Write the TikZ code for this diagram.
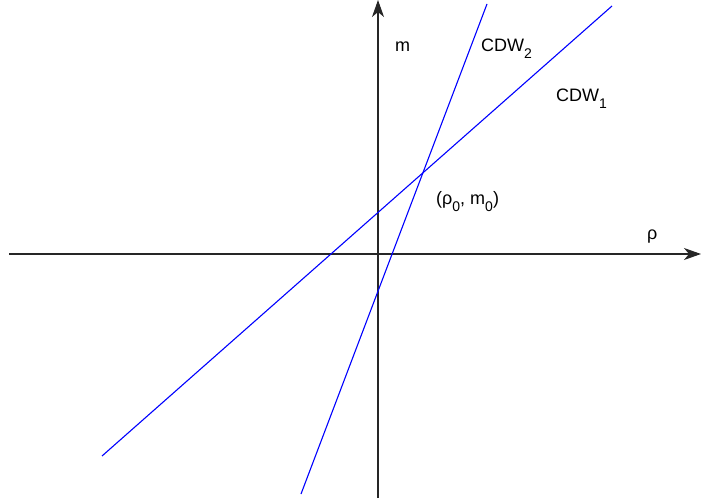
\documentclass[tikz,border=0pt]{standalone}
\usepackage{fontspec}
\setmainfont{Liberation Sans}
\usetikzlibrary{arrows.meta}
\definecolor{cdwblue}{HTML}{0000FF}
\newcommand{\sub}[1]{\raisebox{-0.65ex}{\fontsize{14}{14}\selectfont #1}}

\begin{document}
\begin{tikzpicture}[
    x=1pt, y=-1pt,
    font=\fontsize{18}{21}\selectfont,
    >={Stealth[length=17pt,width=12pt,inset=5pt]},
    axis/.style={draw=black!85, line width=1.1pt, ->},
    cdw/.style={draw=cdwblue, line width=1.1pt},
    lbl/.style={inner sep=0pt, anchor=base west},
  ]
  \useasboundingbox (0,0) rectangle (701,502);

  % Axes.
  \coordinate (xs) at (9,254);
  \coordinate (xe) at (701,254);
  \coordinate (ys) at (378,498);
  \coordinate (ye) at (378,0);
  \draw[axis] (xs) -- (xe);
  \draw[axis] (ys) -- (ye);

  % The two CDW lines.
  \coordinate (a1) at (102,456);
  \coordinate (b1) at (612,6);
  \coordinate (a2) at (301,494);
  \coordinate (b2) at (487,4);
  \draw[cdw] (a1) -- (b1);
  \draw[cdw] (a2) -- (b2);

  % Labels.
  \node[lbl] (mlbl)   at (395,52)  {m};
  \node[lbl] (rholbl) at (647,240) {ρ};
  \node[lbl] (cdw2)   at (481,52)  {CDW\sub{2}};
  \node[lbl] (cdw1)   at (556,102) {CDW\sub{1}};
  \node[lbl] (pt)     at (436,205) {(ρ\sub{0}, m\sub{0})};
\end{tikzpicture}
\end{document}
